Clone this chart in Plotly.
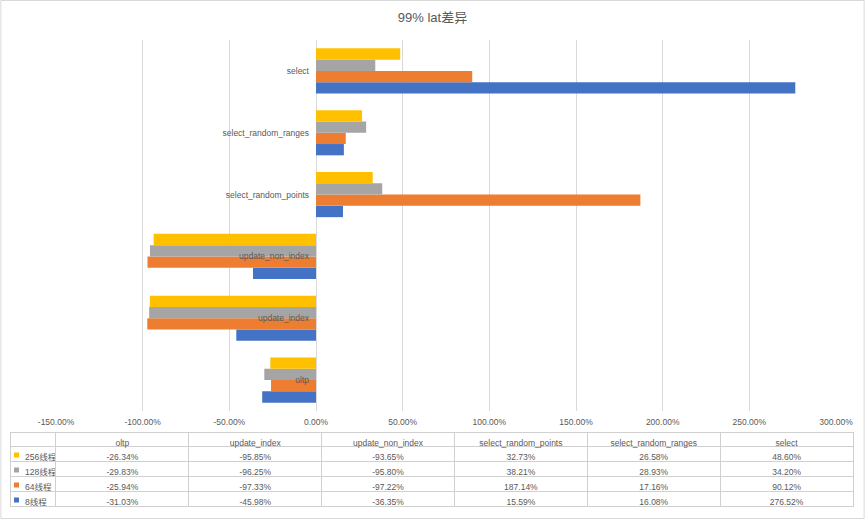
import plotly.graph_objects as go

categories = ["oltp", "update_index", "update_non_index",
              "select_random_points", "select_random_ranges", "select"]
series_names = ["8线程", "64线程", "128线程", "256线程"]
v8 = [-31.03, -45.98, -36.35, 15.59, 16.08, 276.52]
v64 = [-25.94, -97.33, -97.22, 187.14, 17.16, 90.12]
v128 = [-29.83, -96.25, -95.80, 38.21, 28.93, 34.20]
v256 = [-26.34, -95.85, -93.65, 32.73, 26.58, 48.60]
colors = ["#4472C4", "#ED7D31", "#A5A5A5", "#FFC000"]
tick_vals = [-150, -100, -50, 0, 50, 100, 150, 200, 250, 300]

W, H = 865, 519
FONT = "Liberation Sans Narrow, Liberation Sans, Noto Sans CJK SC"
TXT = "#595959"
FS = 8.5

series_vals = [v8, v64, v128, v256]
fig = go.Figure()
for name, vals, c in zip(series_names, series_vals, colors):
    fig.add_trace(go.Bar(y=categories, x=vals, name=name, orientation="h",
                         marker=dict(color=c, line=dict(width=0)),
                         showlegend=False))

# plot area in pixels
px0, px1 = 56, 836
py0, py1 = 40, 411
xd = [px0 / W, px1 / W]
yd = [(H - py1) / H, (H - py0) / H]
zero_pos = xd[0] + (xd[1] - xd[0]) * (150 / 450)

# table geometry (pixels)
tx0, tx1 = 10, 853
ty0 = 432
head_h, row_h = 14, 15
ty1 = ty0 + head_h + 4 * row_h + 2

shapes = [dict(type="rect", xref="paper", yref="paper", x0=0.001, x1=0.999,
               y0=0.001, y1=0.999, line=dict(color="#d9d9d9", width=1))]
order = [3, 2, 1, 0]
for r, i in enumerate(order):
    cy = ty0 + head_h + r * row_h + row_h / 2 + 1.5
    shapes.append(dict(type="rect", xref="paper", yref="paper",
                       x0=(tx0 + 4) / W, x1=(tx0 + 9) / W,
                       y0=(H - cy - 2.5) / H, y1=(H - cy + 2.5) / H,
                       fillcolor=colors[i], line=dict(width=0)))

fig.update_layout(
    width=W, height=H,
    margin=dict(l=0, r=0, t=0, b=0),
    paper_bgcolor="white", plot_bgcolor="white",
    barmode="group", bargap=0.27, bargroupgap=0,
    font=dict(family=FONT, color=TXT, size=FS),
    title=dict(text="99% lat差异", x=0.5, xanchor="center", y=1 - 17 / H,
               yanchor="middle", yref="container",
               font=dict(size=13, color=TXT, family=FONT)),
    xaxis=dict(domain=xd, range=[-150, 300], tickvals=tick_vals,
               ticktext=[f"{t:.2f}%" for t in tick_vals],
               showgrid=True, gridcolor="#d9d9d9", gridwidth=1,
               zeroline=True, zerolinecolor="#d9d9d9", zerolinewidth=1,
               showline=False, ticks="", tickfont=dict(size=FS, color=TXT),
               ticklabelstandoff=4,
               automargin=False, fixedrange=True),
    yaxis=dict(domain=yd, anchor="free", position=zero_pos,
               categoryorder="array", categoryarray=categories,
               showgrid=False, zeroline=False, showline=False, ticks="",
               ticklabelstandoff=7, automargin=False,
               tickfont=dict(size=FS, color=TXT), layer="above traces"),
    shapes=shapes,
)

# data table (serves as legend)
NB = "\u00a0"
first_col = [NB * 3 + series_names[i] for i in order]
cols = [first_col]
for ci in range(len(categories)):
    cols.append([f"{series_vals[i][ci]:.2f}%" for i in order])

fig.add_trace(go.Table(
    domain=dict(x=[tx0 / W, tx1 / W], y=[(H - ty1) / H, (H - ty0) / H]),
    columnwidth=[46] + [133] * 6,
    header=dict(values=[""] + categories, height=head_h,
                line=dict(color="#d0d0d0", width=1), fill=dict(color="white"),
                align="center", font=dict(size=FS, color=TXT, family=FONT)),
    cells=dict(values=cols, height=row_h,
               line=dict(color="#d0d0d0", width=1), fill=dict(color="white"),
               align=["left"] + ["center"] * 6,
               font=dict(size=FS, color=TXT, family=FONT)),
))

fig.write_html("out.html",
               config={"displayModeBar": False},
               post_script="document.body.style.margin='0';"
                           "document.body.style.overflow='hidden';")
